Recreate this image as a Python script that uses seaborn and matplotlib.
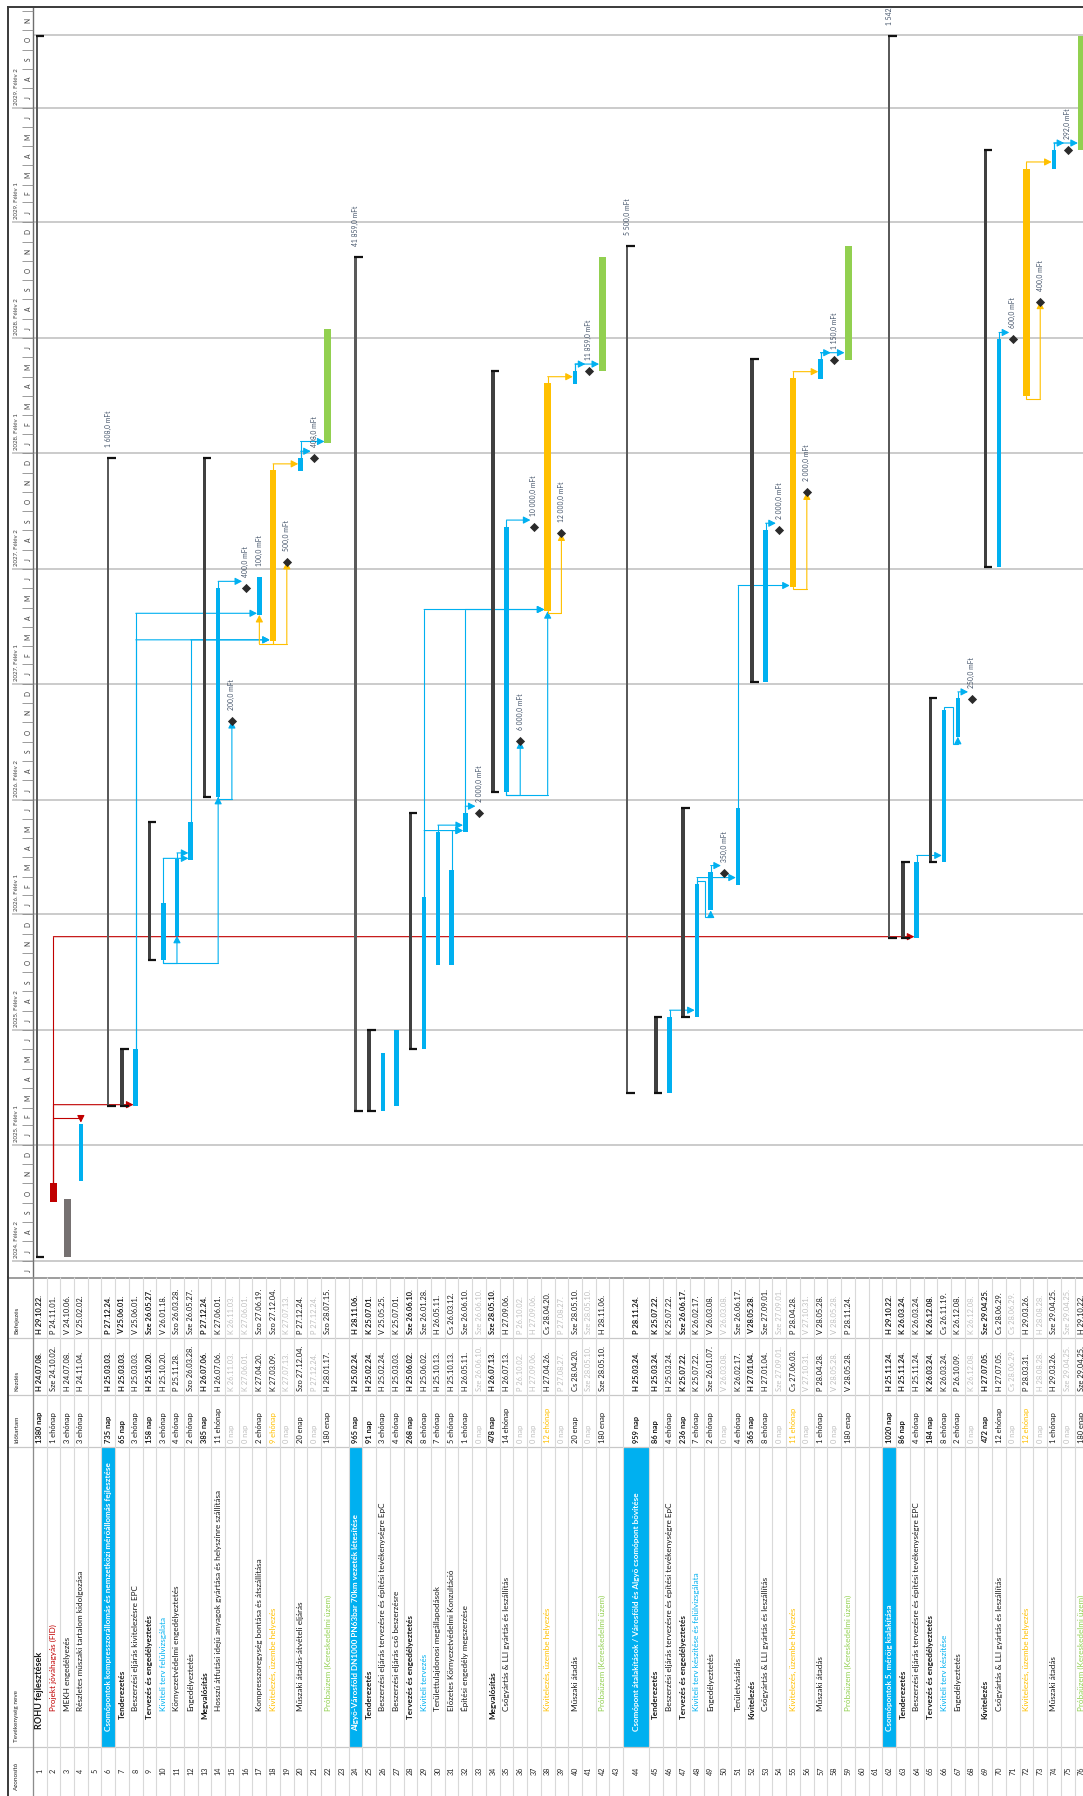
import datetime as dt

import matplotlib
matplotlib.use("Agg")
import matplotlib.dates as mdates
import matplotlib.pyplot as plt
import numpy as np
import seaborn as sns
from matplotlib.patches import Rectangle
from matplotlib.transforms import Bbox, TransformedBbox

sns.set_theme(style="white")
plt.rcParams["font.family"] = ["Lato", "DejaVu Sans"]

task_names = [
    "ROHU fejlesztések",
    "Projekt jóváhagyás (FID)",
    "MEKH engedélyezés",
    "Részletes műszaki tartalom kidolgozása",
    "",
    "Csomópontok kompresszorállomás és nemzetközi mérőállomás fejlesztése",
    "Tenderezetés",
    "Beszerzési eljárás kivitelezésre EPC",
    "Tervezés és engedélyeztetés",
    "Kiviteli terv felülvizsgálata",
    "Környezetvédelmi engedélyeztetés",
    "Engedélyeztetés",
    "Megvalósítás",
    "Hosszú átfutási idejű anyagok gyártása és helyszínre szállítása",
    "",
    "",
    "Kompresszoregység bontása és átszállítása",
    "Kivitelezés, üzembe helyezés",
    "",
    "Műszaki átadás-átvételi eljárás",
    "",
    "Próbaüzem (Kereskedelmi üzem)",
    "",
    "Algyő-Városföld DN1000 PN63bar 70km vezeték létesítése",
    "Tenderezetés",
    "Beszerzési eljárás tervezésre és építési tevékenységre EpC",
    "Beszerzési eljárás cső beszerzésre",
    "Tervezés és engedélyeztetés",
    "Kiviteli tervezés",
    "Területtulajdonosi megállapodások",
    "Előzetes Környezetvédelmi Konzultáció",
    "Építési engedély megszerzése",
    "",
    "Megvalósítás",
    "Csőgyártás & LLI gyártás és leszállítás",
    "",
    "",
    "Kivitelezés, üzembe helyezés",
    "",
    "Műszaki átadás",
    "",
    "Próbaüzem (Kereskedelmi üzem)",
    "",
    "Csomópont átalakítások / Városföld és Algyő csomópont bővítése",
    "Tenderezetés",
    "Beszerzési eljárás tervezésre és építési tevékenységre EpC",
    "Tervezés és engedélyeztetés",
    "Kiviteli terv készítése és felülvizsgálata",
    "Engedélyeztetés",
    "",
    "Területvásárlás",
    "Kivitelezés",
    "Csőgyártás & LLI gyártás és leszállítás",
    "",
    "Kivitelezés, üzembe helyezés",
    "",
    "Műszaki átadás",
    "",
    "Próbaüzem (Kereskedelmi üzem)",
    "",
    "",
    "Csomópontok 5. mérőig kialakítása",
    "Tenderezetés",
    "Beszerzési eljárás tervezésre és építési tevékenységre EPC",
    "Tervezés és engedélyeztetés",
    "Kiviteli terv készítése",
    "Engedélyeztetés",
    "",
    "Kivitelezés",
    "Csőgyártás & LLI gyártás és leszállítás",
    "",
    "Kivitelezés, üzembe helyezés",
    "",
    "Műszaki átadás",
    "",
    "Próbaüzem (Kereskedelmi üzem)",
]

durations = [
    "1380 nap", "1 ehónap", "3 ehónap", "3 ehónap", "",
    "735 nap", "65 nap", "3 ehónap", "158 nap", "3 ehónap",
    "4 ehónap", "2 ehónap", "385 nap", "11 ehónap", "0 nap",
    "0 nap", "2 ehónap", "9 ehónap", "0 nap", "20 enap",
    "0 nap", "180 enap", "", "965 nap", "91 nap",
    "3 ehónap", "4 ehónap", "268 nap", "8 ehónap", "7 ehónap",
    "5 ehónap", "1 ehónap", "0 nap", "478 nap", "14 ehónap",
    "0 nap", "0 nap", "12 ehónap", "0 nap", "20 enap",
    "0 nap", "180 enap", "", "959 nap", "86 nap",
    "4 ehónap", "236 nap", "7 ehónap", "2 ehónap", "0 nap",
    "4 ehónap", "365 nap", "8 ehónap", "0 nap", "11 ehónap",
    "0 nap", "1 ehónap", "0 nap", "180 enap", "",
    "", "1020 nap", "86 nap", "4 ehónap", "184 nap",
    "8 ehónap", "2 ehónap", "0 nap", "472 nap", "12 ehónap",
    "0 nap", "12 ehónap", "0 nap", "1 ehónap", "0 nap",
    "180 enap",
]

start_dates = [
    "2024-07-08", "2024-10-02", "2024-07-08", "2024-11-04", None,
    "2025-03-03", "2025-03-03", "2025-03-03", "2025-10-20", "2025-10-20",
    "2025-11-28", "2026-03-28", "2026-07-06", "2026-07-06", "2026-11-03",
    "2027-06-01", "2027-04-20", "2027-03-09", "2027-07-13", "2027-12-04",
    "2027-12-24", "2028-01-17", None, "2025-02-24", "2025-02-24",
    "2025-02-24", "2025-03-03", "2025-06-02", "2025-06-02", "2025-10-13",
    "2025-10-13", "2026-05-11", "2026-06-10", "2026-07-13", "2026-07-13",
    "2026-10-02", "2027-09-06", "2027-04-26", "2027-08-27", "2028-04-20",
    "2028-05-10", "2028-05-10", None, "2025-03-24", "2025-03-24",
    "2025-03-24", "2025-07-22", "2025-07-22", "2026-01-07", "2026-03-08",
    "2026-02-17", "2027-01-04", "2027-01-04", "2027-09-01", "2027-06-03",
    "2027-10-31", "2028-04-28", "2028-05-28", "2028-05-28", None,
    None, "2025-11-24", "2025-11-24", "2025-11-24", "2026-03-24",
    "2026-03-24", "2026-10-09", "2026-12-08", "2027-07-05", "2027-07-05",
    "2028-06-29", "2028-03-31", "2028-08-28", "2029-03-26", "2029-04-25",
    "2029-04-25",
]

finish_dates = [
    "2029-10-22", "2024-11-01", "2024-10-06", "2025-02-02", None,
    "2027-12-24", "2025-06-01", "2025-06-01", "2026-05-27", "2026-01-18",
    "2026-03-28", "2026-05-27", "2027-12-24", "2027-06-01", "2026-11-03",
    "2027-06-01", "2027-06-19", "2027-12-04", "2027-07-13", "2027-12-24",
    "2027-12-24", "2028-07-15", None, "2028-11-06", "2025-07-01",
    "2025-05-25", "2025-07-01", "2026-06-10", "2026-01-28", "2026-05-11",
    "2026-03-12", "2026-06-10", "2026-06-10", "2028-05-10", "2027-09-06",
    "2026-10-02", "2027-09-06", "2028-04-20", "2027-08-27", "2028-05-10",
    "2028-05-10", "2028-11-06", None, "2028-11-24", "2025-07-22",
    "2025-07-22", "2026-06-17", "2026-02-17", "2026-03-08", "2026-03-08",
    "2026-06-17", "2028-05-28", "2027-09-01", "2027-09-01", "2028-04-28",
    "2027-10-31", "2028-05-28", "2028-05-28", "2028-11-24", None,
    None, "2029-10-22", "2026-03-24", "2026-03-24", "2026-12-08",
    "2026-11-19", "2026-12-08", "2026-12-08", "2029-04-25", "2028-06-29",
    "2028-06-29", "2029-03-26", "2028-08-28", "2029-04-25", "2029-04-25",
    "2029-10-22",
]

# top / phase / sum = summary rows, ms = milestone
task_kinds = [
    "top", "fid", "mekh", "task", "",
    "phase", "sum", "task", "sum", "design",
    "task", "task", "sum", "task", "ms",
    "ms", "task", "build", "ms", "task",
    "ms", "trial", "", "phase", "sum",
    "task", "task", "sum", "design", "task",
    "task", "task", "ms", "sum", "task",
    "ms", "ms", "build", "ms", "task",
    "ms", "trial", "", "phase", "sum",
    "task", "sum", "design", "task", "ms",
    "task", "sum", "task", "ms", "build",
    "ms", "task", "ms", "trial", "",
    "", "phase", "sum", "task", "sum",
    "design", "task", "ms", "sum", "task",
    "ms", "build", "ms", "task", "ms",
    "trial",
]

cost_labels = {
    6: "1 608,0 mFt", 15: "200,0 mFt", 16: "400,0 mFt", 17: "100,0 mFt",
    19: "500,0 mFt", 21: "408,0 mFt", 24: "41 859,0 mFt", 33: "2 000,0 mFt",
    36: "6 000,0 mFt", 37: "10 000,0 mFt", 39: "12 000,0 mFt",
    41: "11 859,0 mFt", 44: "5 500,0 mFt", 50: "350,0 mFt",
    54: "2 000,0 mFt", 56: "2 000,0 mFt", 58: "1 150,0 mFt",
    62: "1 542,0 mFt", 68: "250,0 mFt", 71: "600,0 mFt",
    73: "400,0 mFt", 75: "292,0 mFt",
}

# (predecessor, successor, link type)
links = [
    (2, 4, "FF"), (2, 8, "FS"), (2, 64, "FS"),
    (8, 17, "FS"), (8, 18, "FS"), (10, 11, "SS"), (10, 12, "FS"),
    (11, 12, "FS"), (10, 14, "SS"), (12, 18, "FS"), (14, 15, "SS"),
    (14, 16, "FS"), (18, 17, "SS"), (18, 19, "SS"), (18, 20, "FS"),
    (20, 21, "FS"), (20, 22, "FS"),
    (29, 32, "FS"), (30, 32, "FS"), (31, 32, "FS"), (32, 33, "FS"),
    (29, 38, "FS"), (32, 38, "FS"), (35, 36, "SS"), (35, 37, "FS"),
    (35, 38, "SS"), (38, 39, "SS"), (38, 40, "FS"), (40, 41, "FS"),
    (40, 42, "FS"),
    (46, 48, "FS"), (48, 49, "FS"), (48, 51, "FS"), (49, 50, "FS"),
    (51, 55, "FS"), (53, 54, "FS"), (55, 56, "SS"), (55, 57, "FS"),
    (57, 58, "FS"), (57, 59, "FS"),
    (64, 66, "FS"), (66, 67, "FS"), (67, 68, "FS"), (70, 71, "FS"),
    (72, 73, "SS"), (72, 74, "FS"), (74, 75, "FS"), (74, 76, "FS"),
]

column_titles = ["Azonosító", "Tevékenység neve", "Időtartam", "Kezdés", "Befejezés"]
month_letters = list("JFMAMJJASOND")
HU_DAYS = ["H", "K", "Sze", "Cs", "P", "Szo", "V"]

# ---------------- layout (pixels of the 1083x1796 picture) ----------------
W, H = 1083, 1796
ROW_PX = 13.73
X0_PX = 32.8          # left edge of row 1
LEFT_PX = 8.3
TOP_PX, GANTT_BOT_PX = 7.3, 1277.0
U = 1.0 / ROW_PX      # one pixel in row units

BLUE, ORANGE, GREEN, RED = "#00B0F0", "#FFC000", "#92D050", "#C00000"

n_rows = len(task_names)
row_h = np.ones(n_rows)
row_h[43] = 25.73 / ROW_PX
tops = np.concatenate([[0.0], np.cumsum(row_h)[:-1]])
centers = tops + row_h / 2
bar_x = tops + 0.5
bar_x[0] = tops[0] + 0.28
bar_x[43] = tops[43] + 0.30

x_min = (LEFT_PX - X0_PX) / ROW_PX
x_max = (W - X0_PX) / ROW_PX


def num(s):
    return mdates.date2num(dt.datetime.fromisoformat(s))


def hu_date(s):
    d = dt.date.fromisoformat(s)
    return f"{HU_DAYS[d.weekday()]} {d:%y.%m.%d}."


JUL24, JUL29 = num("2024-07-01"), num("2029-07-01")
PX_DAY = (1261.0 - 107.7) / (JUL29 - JUL24)


def px2date(p):
    return JUL24 + (1261.0 - p) / PX_DAY


starts = np.array([num(s) if s else np.nan for s in start_dates])
finishes = np.array([num(s) if s else np.nan for s in finish_dates])

fig = plt.figure(figsize=(W / 100, H / 100), dpi=100)
ax = fig.add_axes([LEFT_PX / W, 1 - GANTT_BOT_PX / H, (W - LEFT_PX) / W,
                   (GANTT_BOT_PX - TOP_PX) / H])
ax_t = fig.add_axes([LEFT_PX / W, 0, (W - LEFT_PX) / W, (H - GANTT_BOT_PX) / H])

ax.set_xlim(x_min, x_max)
ax.set_ylim(px2date(GANTT_BOT_PX), px2date(TOP_PX))
ax_t.set_xlim(x_min, x_max)
ax_t.set_ylim(H, GANTT_BOT_PX)
for a in (ax, ax_t):
    a.set_xticks([])
    a.set_yticks([])
    for side in ("right", "bottom", "top"):
        a.spines[side].set_visible(False)
    a.spines["left"].set_color("#3A3A3A")
    a.spines["left"].set_linewidth(1.4)
ax.spines["top"].set_visible(True)
ax.spines["top"].set_color("#3A3A3A")
ax.spines["top"].set_linewidth(1.4)

# ---------------- timescale header + grid ----------------
half_starts = [num(f"{y}-{m:02d}-01") for y in range(2024, 2030) for m in (1, 7)]
ax.hlines(half_starts, (11.7 - X0_PX) * U, x_max, color="#BDBDBD", lw=1.1, zorder=1)
ax.hlines(px2date(35.0), 0, x_max, color="#BDBDBD", lw=1.1, zorder=1)
ax.axvline(0, color="#6E6E6E", lw=1.0, zorder=2)

months = [dt.date(2024, 6, 1)]
while months[-1] < dt.date(2030, 1, 1):
    d = months[-1]
    months.append(dt.date(d.year + d.month // 12, d.month % 12 + 1, 1))
month_nums = [mdates.date2num(m) for m in months]
ax.hlines(month_nums, (22.0 - X0_PX) * U, 0, color="#8C8C8C", lw=0.6, zorder=2)
for m, a0, a1 in zip(months[:-1], month_nums[:-1], month_nums[1:]):
    ax.text((28.0 - X0_PX) * U, (a0 + a1) / 2, month_letters[m.month - 1],
            rotation=90, ha="center", va="center", fontsize=4.8,
            color="#404040", clip_on=True)
for y in range(2024, 2030):
    for hlf, m in ((1, 1), (2, 7)):
        ax.text((16.8 - X0_PX) * U, num(f"{y}-{m:02d}-01") + 3 / PX_DAY,
                f"{y}. Félév {hlf}", rotation=90, ha="center", va="bottom",
                fontsize=4.4, color="#404040", clip_on=True)

# ---------------- links ----------------
GAP = 7.0 / PX_DAY
link_color = {"fid": RED, "build": ORANGE}
bar_half = {"task": 2.3, "design": 2.3, "build": 3.3, "trial": 3.5, "ms": 3.5,
            "fid": 3.5, "mekh": 3.5, "sum": 2.0}
for p, s, kind in links:
    ip, is_ = p - 1, s - 1
    xp, xs = bar_x[ip], bar_x[is_]
    sp, fp, ss, fs = starts[ip], finishes[ip], starts[is_], finishes[is_]
    col = link_color.get(task_kinds[ip], BLUE)
    hw = bar_half.get(task_kinds[is_], 2.3) * U
    if kind == "FS" and ss >= fp:
        y = max(ss + 2.5, fp + GAP)
        pts = [(xp, fp), (xp, y), (xs - hw, y)]
    elif kind == "FS":
        xm = xs - 0.38
        pts = [(xp, fp), (xp, fp + GAP / 2), (xm, fp + GAP / 2), (xm, ss - GAP),
               (xs, ss - GAP), (xs, ss)]
    elif kind == "SS":
        y = sp - GAP / 3
        pts = [(xp, sp), (xp, y), (xs, y), (xs, ss)]
    else:
        y = max(fp, fs) + GAP
        pts = [(xp, fp), (xp, y), (xs, y), (xs, fs + 2 / PX_DAY)]
    xs_, ys_ = zip(*pts)
    ax.plot(xs_[:-1], ys_[:-1], color=col, lw=0.8, zorder=2, solid_joinstyle="miter")
    ax.annotate("", xy=pts[-1], xytext=pts[-2],
                arrowprops=dict(arrowstyle="-|>,head_length=0.35,head_width=0.18",
                                color=col, lw=0.8, shrinkA=0, shrinkB=0),
                zorder=2)

# ---------------- bars ----------------
bar_style = {
    "fid": (RED, 7.0), "mekh": ("#767171", 7.0), "task": (BLUE, 4.6),
    "design": (BLUE, 4.6), "build": (ORANGE, 6.5), "trial": (GREEN, 7.0),
    "sum": ("#404040", 3.6), "top": ("#5A5A5A", 2.2), "phase": ("#5A5A5A", 2.2),
}
for i, kind in enumerate(task_kinds):
    if kind in ("", "ms"):
        continue
    color, wpx = bar_style[kind]
    ax.bar(bar_x[i], finishes[i] - starts[i] + 0.7, bottom=starts[i],
           width=wpx * U, color=color, linewidth=0, zorder=3)
    if kind in ("sum", "top", "phase"):
        x0 = bar_x[i] - wpx / 2 * U
        ax.hlines([starts[i], finishes[i] + 0.7], x0, x0 + 8.5 * U,
                  color="#111111", lw=1.6, zorder=4)

ms_idx = [i for i, k in enumerate(task_kinds) if k == "ms"]
sns.scatterplot(x=bar_x[ms_idx], y=starts[ms_idx], marker="D", s=22,
                color="#2B2B2B", linewidth=0, ax=ax, zorder=5)
ax.set_xlabel("")
ax.set_ylabel("")

for row, label in cost_labels.items():
    i = row - 1
    ax.text(bar_x[i], finishes[i] + 11 / PX_DAY, label, rotation=90,
            ha="center", va="bottom", fontsize=4.9, color="#44546A",
            clip_on=True, zorder=6)

# ---------------- table ----------------
COL_EDGES = [1338.0, 1395.0, 1447.0, 1747.0]
ax_t.hlines(GANTT_BOT_PX + 0.6, x_min, x_max, color="#8C8C8C", lw=1.2)
ax_t.hlines(COL_EDGES, x_min, x_max, color="#C8C8C8", lw=0.9)
ax_t.vlines(np.append(tops, tops[-1] + 1), GANTT_BOT_PX, H, color="#D9D9D9", lw=0.8)
ax_t.axvline(0, color="#8C8C8C", lw=0.9)

title_y = [1790.0, 1742.0, 1443.0, 1391.0, 1334.0]
for t, y in zip(column_titles, title_y):
    ax_t.text((16.6 - X0_PX) * U, y, t, rotation=90, ha="center", va="bottom",
              fontsize=4.6, color="#262626")

name_clip = TransformedBbox(Bbox([[x_min, COL_EDGES[2]], [x_max, COL_EDGES[3]]]),
                            ax_t.transData)
name_anchor = {"top": 1729.0, "phase": 1731.0, "sum": 1719.0}
name_color = {"fid": RED, "design": BLUE, "build": ORANGE, "trial": GREEN,
              "phase": "white"}
GRAY = "#BFBFBF"
for i, kind in enumerate(task_kinds):
    xc = centers[i]
    ax_t.text(xc, 1771.0, str(i + 1), rotation=90, ha="center", va="center",
              fontsize=5.2, color="#262626")
    if kind == "":
        continue
    bold = "bold" if kind in ("top", "phase", "sum") else "normal"
    if kind == "phase":
        ax_t.add_patch(Rectangle((tops[i], COL_EDGES[2]), row_h[i],
                                 COL_EDGES[3] - COL_EDGES[2], color=BLUE, lw=0))
    if task_names[i]:
        txt = ax_t.text(xc, name_anchor.get(kind, 1711.0), task_names[i],
                        rotation=90, ha="center", va="bottom",
                        fontsize=6.6 if kind == "top" else 5.9, fontweight=bold,
                        color=name_color.get(kind, "#1A1A1A"))
        txt.set_clip_box(name_clip)
        txt.set_clip_on(True)
    dcol = GRAY if kind == "ms" else (ORANGE if kind == "build" else "#1A1A1A")
    tcol = GRAY if kind == "ms" else "#1A1A1A"
    ax_t.text(xc, 1443.0, durations[i], rotation=90, ha="center", va="bottom",
              fontsize=5.4, fontweight=bold, color=dcol)
    ax_t.text(xc, 1391.0, hu_date(start_dates[i]), rotation=90, ha="center",
              va="bottom", fontsize=5.4, fontweight=bold, color=tcol)
    ax_t.text(xc, 1334.0, hu_date(finish_dates[i]), rotation=90, ha="center",
              va="bottom", fontsize=5.4, fontweight=bold, color=tcol)

fig.savefig("out.png", dpi=100)
plt.close(fig)
